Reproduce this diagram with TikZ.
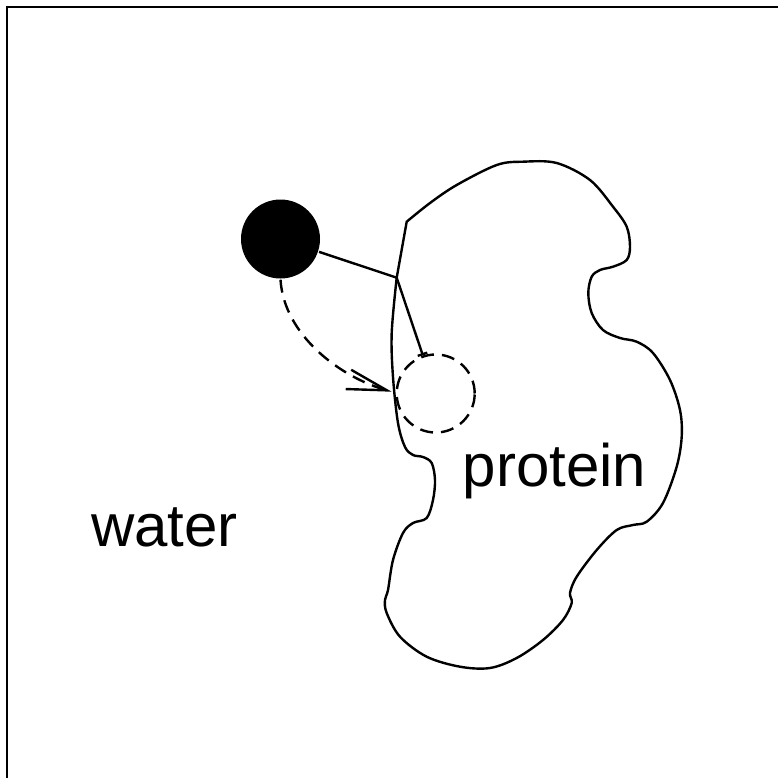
\documentclass[tikz,border=0pt]{standalone}
\usepackage{fontspec}
\setmainfont{Liberation Sans}
\usetikzlibrary{arrows.meta}
\begin{document}
\begin{tikzpicture}[x=0.5pt,y=-0.5pt,line width=1.2pt,
  outline/.style={draw=black,line width=1.2pt},
  dashline/.style={dash pattern=on 6.5pt off 4pt},
  label/.style={font=\fontsize{30pt}{36pt}\selectfont,inner sep=0pt,anchor=base west}]
\useasboundingbox (0,0) rectangle (778,778);
% frame
\draw[outline] (7,778) -- (7,7) -- (778,7);
% protein outline
\coordinate (K) at (406.7,221.7);
\coordinate (J) at (396.7,277.7);
\coordinate (entry) at (391.7,391.7);
\draw[outline] (J) -- (K) -- plot[smooth,tension=0.55] coordinates {
 (406.7,221.7) (430,203) (456.7,185) (496.7,165) (523,161.7) (556.7,163)
 (590,180) (613,206.7) (626.7,226.7) (630,246.7) (626.7,260) (613,266.7)
 (600,270) (591.7,276.7) (588.3,293) (591.7,313) (603,330) (620,338)
 (636.7,341.7) (653,353) (670,380) (680,410) (681.7,436.7) (676.7,466.7)
 (663,503) (646.7,521.7) (633,525) (616.7,530) (596.7,550) (576.7,576.7)
 (570,593) (571.7,603) (563,620) (543,640) (516.7,658) (490,668)
 (460,666.7) (426.7,656.7) (400,636.7) (386.7,613) (385,600) (388,590)
 (393,560) (403,533) (413,523) (426.7,518) (433,500) (435,480)
 (431.7,463) (423,457) (413,455) (405,447) (398,423) (393,377)
 (391.7,333) (396.7,277.7)};
% ion and site
\node (ion) [circle,fill=black,inner sep=0pt,minimum size=39.5pt] at (280.5,239) {};
\node (site) [circle,draw=black,dashline,inner sep=0pt,minimum size=39pt] at (435.7,393.5) {};
% connectors
\draw (ion) -- (J);
\draw[-{Bar[width=5pt]}] (J) -- (site);
\draw[dashline,-{Straight Barb[length=20pt,width=10pt]}] (ion.south) .. controls (284,335) and (340,377) .. (entry);
% labels
\node (water) [label] at (90,546.7) {water};
\node (protein) [label] at (461.7,486.7) {protein};
\end{tikzpicture}
\end{document}
